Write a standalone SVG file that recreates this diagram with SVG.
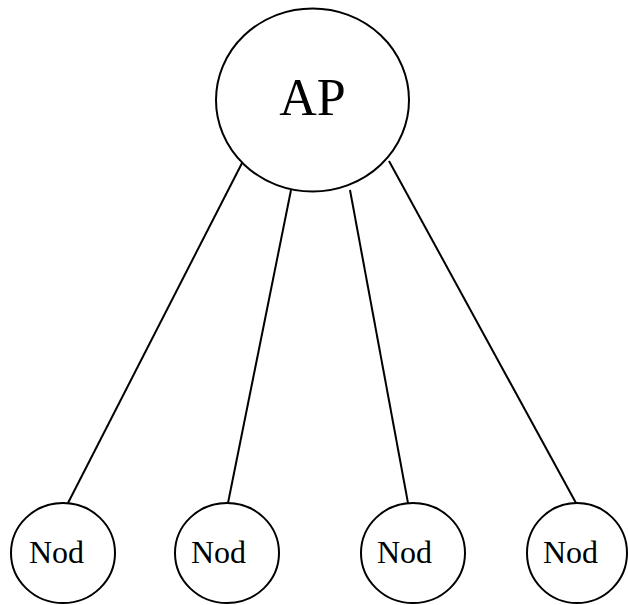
<svg xmlns="http://www.w3.org/2000/svg" width="628" height="605" viewBox="0 0 628 605">
<style>
.n{fill:#fff;stroke:#000;stroke-width:2}
.e{stroke:#000;stroke-width:2;fill:none}
.t{font-family:"Liberation Serif","Times New Roman",serif;fill:#000}
</style>
<rect width="628" height="605" fill="#fff"/>
<g id="connectors">
<line class="e" x1="242.7" y1="161.7" x2="68" y2="503"/>
<line class="e" x1="291" y1="190" x2="228" y2="503"/>
<line class="e" x1="350" y1="190" x2="408" y2="503"/>
<line class="e" x1="389" y1="161" x2="576" y2="503"/>
</g>
<g id="ap">
<ellipse class="n" cx="312.5" cy="100" rx="96.5" ry="91.5"/>
<text class="t" x="312.5" y="115" font-size="52" text-anchor="middle">AP</text>
</g>
<g id="nod1">
<ellipse class="n" cx="63" cy="553" rx="52" ry="50"/>
<text class="t" x="29" y="563" font-size="32">Nod</text>
</g>
<g id="nod2">
<ellipse class="n" cx="227" cy="553" rx="52" ry="50"/>
<text class="t" x="191" y="563" font-size="32">Nod</text>
</g>
<g id="nod3">
<ellipse class="n" cx="413" cy="553" rx="52" ry="50"/>
<text class="t" x="377" y="563" font-size="32">Nod</text>
</g>
<g id="nod4">
<ellipse class="n" cx="577" cy="553" rx="50" ry="50"/>
<text class="t" x="543" y="563" font-size="32">Nod</text>
</g>
</svg>
